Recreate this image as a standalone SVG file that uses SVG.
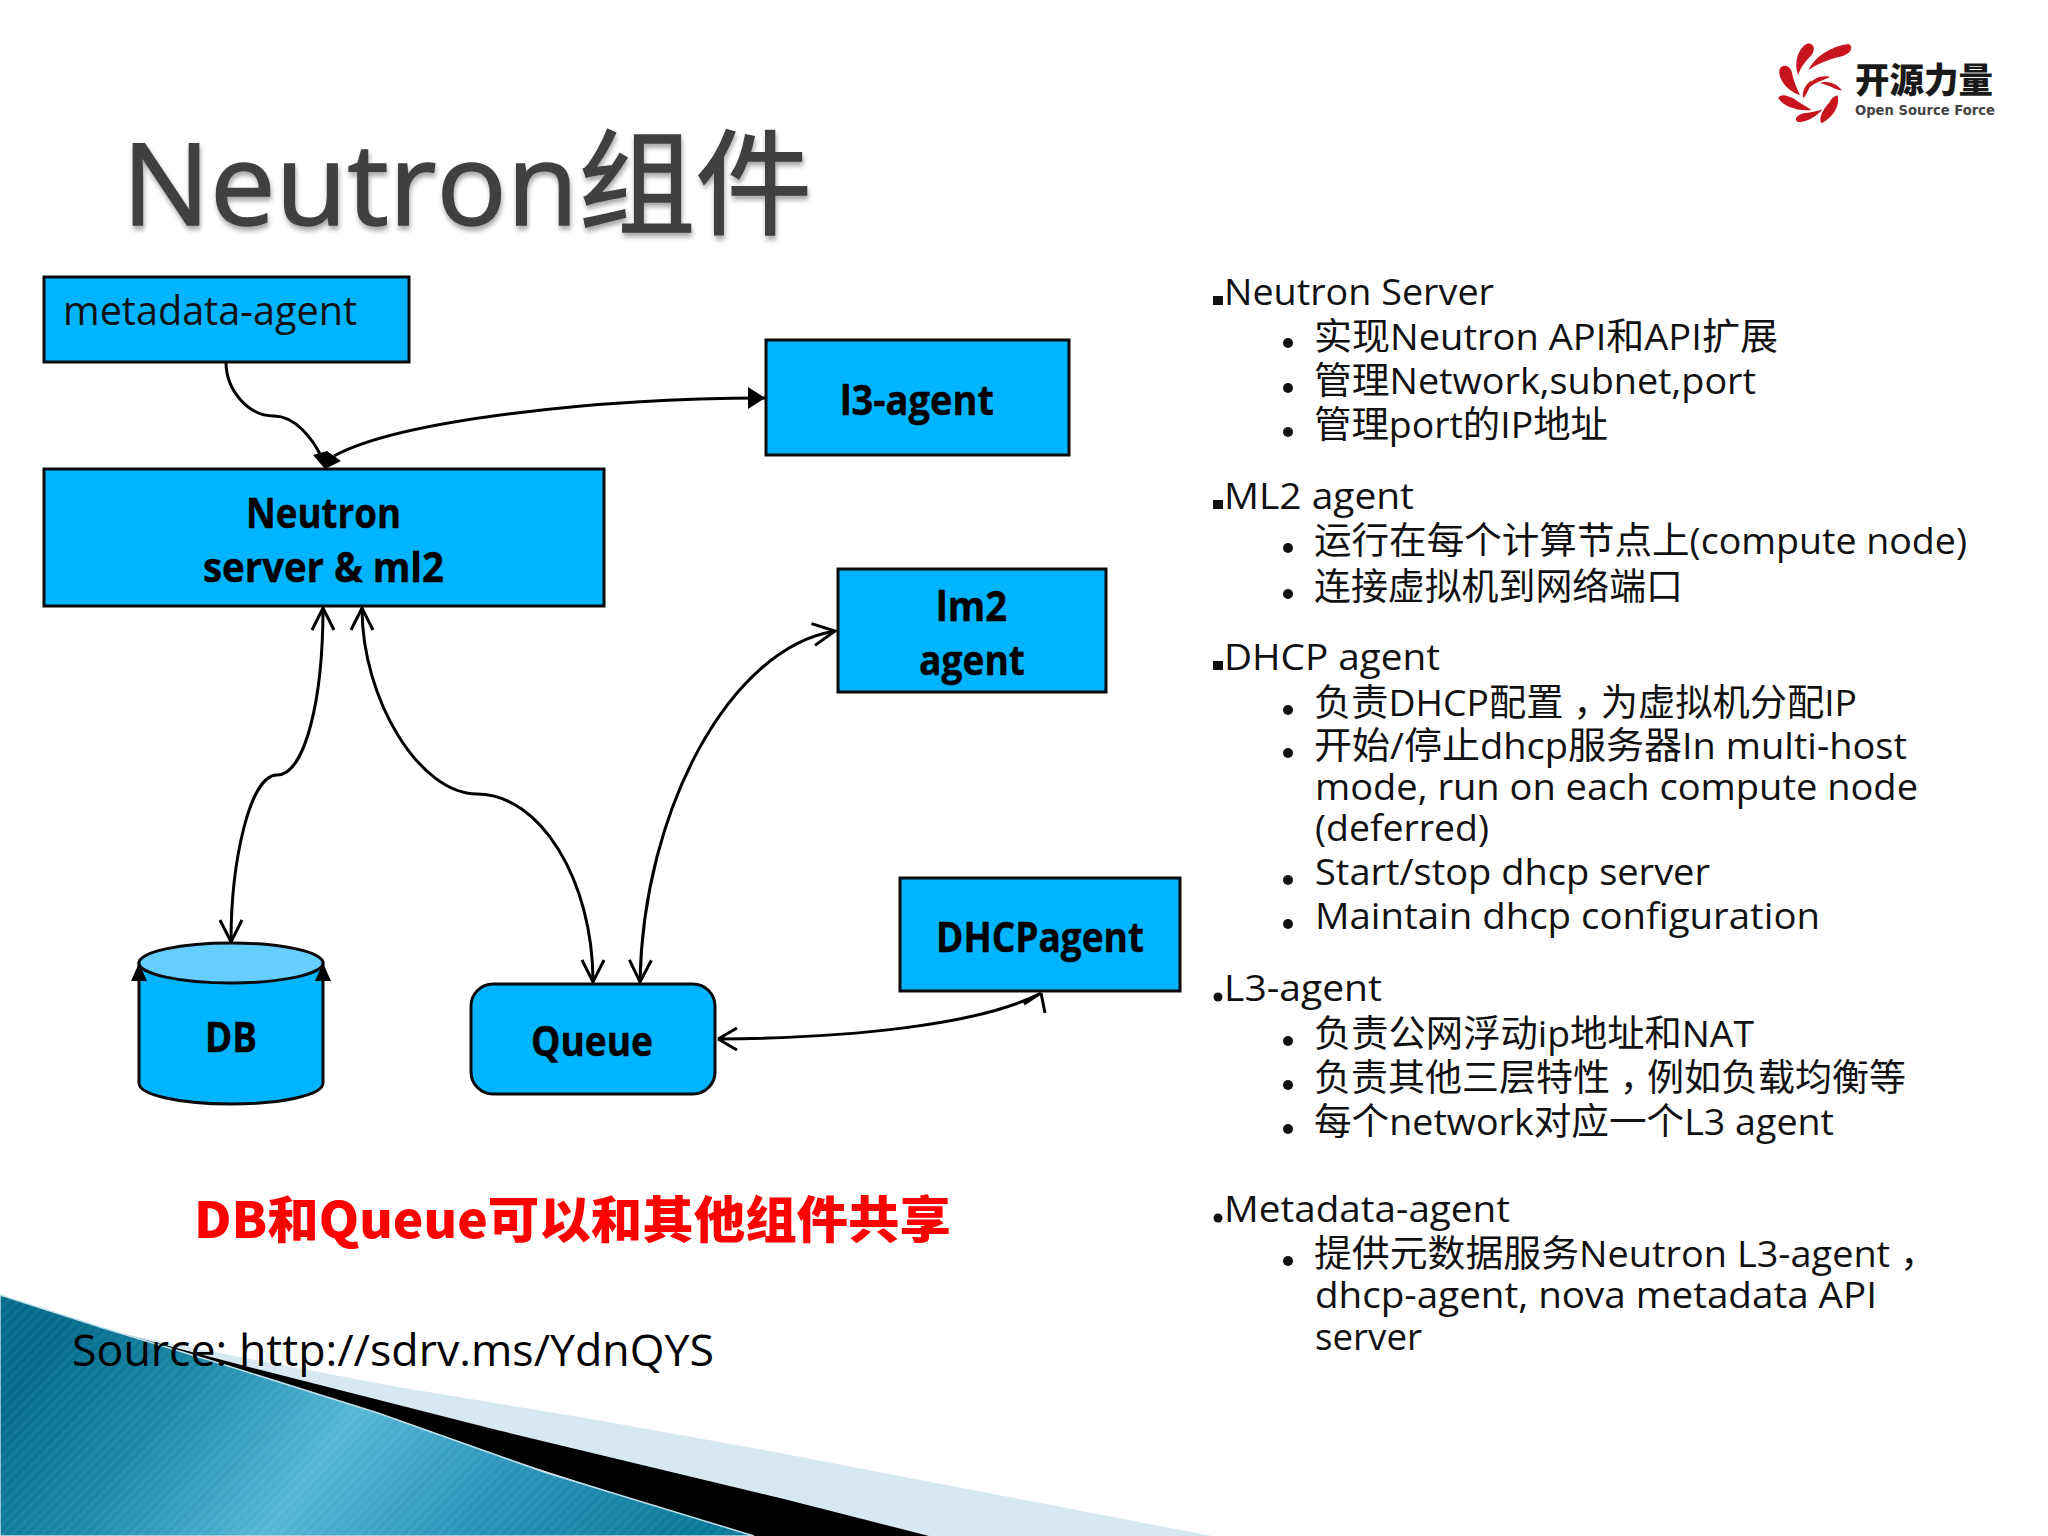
<svg xmlns="http://www.w3.org/2000/svg" width="2048" height="1536" viewBox="0 0 2048 1536">
<style>
.n{fill:#00B4FF;stroke:#0a0a0a;stroke-width:3}
.c{fill:none;stroke:#000;stroke-width:3}
.t{font-family:"Open Sans","Noto Sans CJK SC",sans-serif;fill:#111;font-size:37px}
.b{font-family:"Open Sans","Noto Sans CJK SC",sans-serif;fill:#000;font-size:41px;font-weight:700;stroke:#000;stroke-width:.4}
.bu{fill:#111}
.p{font-family:"Noto Sans CJK TC",sans-serif}
</style>
<defs>
<linearGradient id="g" gradientUnits="userSpaceOnUse" x1="46" y1="1352" x2="550" y2="1730">
<stop offset="0" stop-color="#056a8c"/><stop offset=".2" stop-color="#1a87a8"/><stop offset=".45" stop-color="#55b6d6"/><stop offset=".7" stop-color="#2a93b8"/><stop offset="1" stop-color="#0a7898"/>
</linearGradient>
<pattern id="st" patternUnits="userSpaceOnUse" width="7" height="7" patternTransform="rotate(45)"><rect width="3" height="7" fill="#fff" fill-opacity=".05"/></pattern>
<filter id="sh" x="-5%" y="-10%" width="110%" height="125%"><feDropShadow dx="1" dy="4" stdDeviation="2.5" flood-color="#000" flood-opacity=".35"/></filter>
<marker id="o" markerUnits="userSpaceOnUse" markerWidth="30" markerHeight="30" refX="24" refY="12" orient="auto" overflow="visible"><path d="M2 1L24 12L2 23" fill="none" stroke="#000" stroke-width="3"/></marker>
<marker id="os" markerUnits="userSpaceOnUse" markerWidth="30" markerHeight="30" refX="24" refY="12" orient="auto-start-reverse" overflow="visible"><path d="M2 1L24 12L2 23" fill="none" stroke="#000" stroke-width="3"/></marker>
<marker id="f" markerUnits="userSpaceOnUse" markerWidth="30" markerHeight="30" refX="17" refY="11" orient="auto" overflow="visible"><path d="M0 0L17 11L0 22Z" fill="#000"/></marker>
</defs>
<rect width="2048" height="1536" fill="#fff"/>
<g id="background">
<path d="M119 1333L219 1353L398 1387L597 1420L780 1453L1212 1536H800Z" fill="#d8e8f1"/>
<path d="M100 1327L119 1333L249 1367L497 1430L780 1498L929 1536H746Z" fill="#000"/>
<path id="band" d="M0 1295L100 1327L209 1360L378 1413L547 1473L754 1536H0Z" fill="url(#g)" stroke="#bfe0ea" stroke-width="1.5"/>
<path d="M0 1295L100 1327L209 1360L378 1413L547 1473L754 1536H0Z" fill="url(#st)"/>
</g>
<text id="title" x="122" y="225" font-family="'Open Sans','Noto Sans CJK SC',sans-serif" font-size="114" fill="#404040" stroke="#404040" stroke-width="1.5" filter="url(#sh)" textLength="690" lengthAdjust="spacingAndGlyphs">Neutron组件</text>
<g id="logo">
<g fill="#c8141e" transform="translate(1740 20) scale(.3333)">
<path d="M205 150C225 110 270 80 325 72C345 80 330 105 300 110C265 118 235 130 205 150Z"/>
<path d="M175 165C160 130 175 80 205 70C225 72 225 90 215 105C195 125 180 145 175 165Z"/>
<path d="M180 225C145 215 115 180 118 150C125 130 150 135 155 155C160 180 170 205 180 225Z"/>
<path d="M215 270C175 275 130 260 115 235C120 220 140 225 160 235C180 250 200 260 215 270Z"/>
<path d="M248 268C225 295 190 310 172 305C160 295 175 285 190 280C210 278 230 275 248 268Z"/>
<path d="M245 310C235 300 245 270 270 245C280 225 290 230 293 225C300 260 280 290 245 310Z"/>
<path d="M240 190C260 180 290 190 305 210C295 215 270 195 240 190Z"/>
<path d="M205 205C210 180 235 165 270 170C255 180 225 185 205 205Z"/>
<path d="M190 235C185 215 195 195 215 180C210 200 205 215 190 235Z"/>
</g>
<text x="1855" y="93" font-family="'Noto Sans CJK SC',sans-serif" font-size="35" font-weight="900" fill="#1a1a1a" textLength="138" lengthAdjust="spacingAndGlyphs">开源力量</text>
<text x="1855" y="115" font-family="'DejaVu Sans',sans-serif" font-size="14" font-weight="700" fill="#444" textLength="140" lengthAdjust="spacingAndGlyphs">Open Source Force</text>
</g>
<g id="connectors">
<path class="c" d="M226 362C226 390 248 416 274 416C296 416 313 440 321 456"/>
<path class="c" d="M334 456C400 420 600 398 765 398" marker-end="url(#f)"/>
<path d="M313 455L327 451L341 461L325 469Z" fill="#000"/>
<path class="c" d="M323 608C323 700 305 775 277 775C250 775 231 860 231 942" marker-start="url(#os)" marker-end="url(#o)"/>
<path class="c" d="M362 608C362 700 420 794 477 794C540 794 593 880 593 982" marker-start="url(#os)" marker-end="url(#o)"/>
<path class="c" d="M640 982C643 810 730 648 835 631" marker-start="url(#os)" marker-end="url(#o)"/>
<path class="c" d="M718 1039C850 1038 980 1025 1041 993M718 1039L737 1028M718 1039L737 1050M1041 993L1045 1013M1041 993L1024 1004"/>
</g>
<g id="metadata-agent"><rect class="n" x="44" y="277" width="365" height="85"/>
<text class="t" x="63" y="325" style="font-size:40px" textLength="294" lengthAdjust="spacingAndGlyphs">metadata-agent</text></g>
<g id="l3-agent"><rect class="n" x="766" y="340" width="303" height="115"/>
<text class="b" x="840" y="415" textLength="154" lengthAdjust="spacingAndGlyphs">l3-agent</text></g>
<g id="neutron"><rect class="n" x="44" y="469" width="560" height="137"/>
<text class="b" x="246" y="528" textLength="155" lengthAdjust="spacingAndGlyphs">Neutron</text>
<text class="b" x="203" y="582" textLength="241" lengthAdjust="spacingAndGlyphs">server &amp; ml2</text></g>
<g id="lm2-agent"><rect class="n" x="838" y="569" width="268" height="123"/>
<text class="b" x="936" y="621" textLength="71" lengthAdjust="spacingAndGlyphs">lm2</text>
<text class="b" x="919" y="675" textLength="106" lengthAdjust="spacingAndGlyphs">agent</text></g>
<g id="dhcp-agent"><rect class="n" x="900" y="878" width="280" height="113"/>
<text class="b" x="936" y="952" textLength="208" lengthAdjust="spacingAndGlyphs">DHCPagent</text></g>
<g id="db">
<path class="n" d="M139 963V1083C139 1095 180 1104 231 1104C282 1104 323 1095 323 1083V963Z"/>
<ellipse cx="231" cy="963" rx="92" ry="20" fill="#66CFFF" stroke="#0a0a0a" stroke-width="3"/>
<path d="M139 963L131 981H147ZM323 963L315 981H331Z" fill="#000"/>
<text class="b" x="205" y="1052" textLength="52" lengthAdjust="spacingAndGlyphs">DB</text></g>
<g id="queue"><rect class="n" x="471" y="984" width="244" height="110" rx="22"/>
<text class="b" x="531" y="1056" textLength="122" lengthAdjust="spacingAndGlyphs">Queue</text></g>
<text id="note" x="194" y="1238" font-family="'Noto Sans CJK SC',sans-serif" font-size="50" font-weight="900" fill="#FF0000" textLength="757" lengthAdjust="spacingAndGlyphs">DB和Queue可以和其他组件共享</text>
<text id="source" class="t" x="72" y="1366" style="font-size:43px;fill:#000" textLength="642" lengthAdjust="spacingAndGlyphs">Source: http://sdrv.ms/YdnQYS</text>
<g id="outline">
<rect class="bu" x="1213" y="296" width="10" height="9"/><rect class="bu" x="1213" y="500" width="10" height="9"/><rect class="bu" x="1213" y="661" width="10" height="9"/>
<circle class="bu" cx="1218" cy="997" r="4.5"/><circle class="bu" cx="1218" cy="1218" r="4.5"/>
<circle class="bu" cx="1288" cy="343" r="5"/><circle class="bu" cx="1288" cy="388" r="5"/><circle class="bu" cx="1288" cy="432" r="5"/>
<circle class="bu" cx="1288" cy="548" r="5"/><circle class="bu" cx="1288" cy="594" r="5"/>
<circle class="bu" cx="1288" cy="710" r="5"/><circle class="bu" cx="1288" cy="753" r="5"/><circle class="bu" cx="1288" cy="880" r="5"/><circle class="bu" cx="1288" cy="924" r="5"/>
<circle class="bu" cx="1288" cy="1041" r="5"/><circle class="bu" cx="1288" cy="1085" r="5"/><circle class="bu" cx="1288" cy="1129" r="5"/>
<circle class="bu" cx="1288" cy="1261" r="5"/>
<text class="t" x="1224" y="305" textLength="270" lengthAdjust="spacingAndGlyphs">Neutron Server</text>
<text class="t" x="1314" y="350" textLength="464" lengthAdjust="spacingAndGlyphs">实现Neutron API和API扩展</text>
<text class="t" x="1314" y="394" textLength="442" lengthAdjust="spacingAndGlyphs">管理Network,subnet,port</text>
<text class="t" x="1314" y="438" textLength="294" lengthAdjust="spacingAndGlyphs">管理port的IP地址</text>
<text class="t" x="1224" y="509" textLength="190" lengthAdjust="spacingAndGlyphs">ML2 agent</text>
<text class="t" x="1314" y="554" textLength="653" lengthAdjust="spacingAndGlyphs">运行在每个计算节点上(compute node)</text>
<text class="t" x="1314" y="600" textLength="369" lengthAdjust="spacingAndGlyphs">连接虚拟机到网络端口</text>
<text class="t" x="1224" y="670" textLength="216" lengthAdjust="spacingAndGlyphs">DHCP agent</text>
<text class="t" x="1314" y="716" textLength="543" lengthAdjust="spacingAndGlyphs">负责DHCP配置<tspan class="p" dy="11">，</tspan><tspan dy="-11">为虚拟机分配IP</tspan></text>
<text class="t" x="1314" y="759" textLength="593" lengthAdjust="spacingAndGlyphs">开始/停止dhcp服务器In multi-host</text>
<text class="t" x="1315" y="800" textLength="603" lengthAdjust="spacingAndGlyphs">mode, run on each compute node</text>
<text class="t" x="1315" y="841" textLength="174" lengthAdjust="spacingAndGlyphs">(deferred)</text>
<text class="t" x="1315" y="885" textLength="395" lengthAdjust="spacingAndGlyphs">Start/stop dhcp server</text>
<text class="t" x="1315" y="929" textLength="505" lengthAdjust="spacingAndGlyphs">Maintain dhcp configuration</text>
<text class="t" x="1224" y="1001" textLength="158" lengthAdjust="spacingAndGlyphs">L3-agent</text>
<text class="t" x="1314" y="1047" textLength="440" lengthAdjust="spacingAndGlyphs">负责公网浮动ip地址和NAT</text>
<text class="t" x="1314" y="1091" textLength="592" lengthAdjust="spacingAndGlyphs">负责其他三层特性<tspan class="p" dy="11">，</tspan><tspan dy="-11">例如负载均衡等</tspan></text>
<text class="t" x="1314" y="1135" textLength="520" lengthAdjust="spacingAndGlyphs">每个network对应一个L3 agent</text>
<text class="t" x="1224" y="1222" textLength="286" lengthAdjust="spacingAndGlyphs">Metadata-agent</text>
<text class="t" x="1314" y="1267" textLength="614" lengthAdjust="spacingAndGlyphs">提供元数据服务Neutron L3-agent<tspan class="p" dy="11">，</tspan></text>
<text class="t" x="1315" y="1308" textLength="562" lengthAdjust="spacingAndGlyphs">dhcp-agent, nova metadata API</text>
<text class="t" x="1315" y="1350" textLength="107" lengthAdjust="spacingAndGlyphs">server</text>
</g>
</svg>
